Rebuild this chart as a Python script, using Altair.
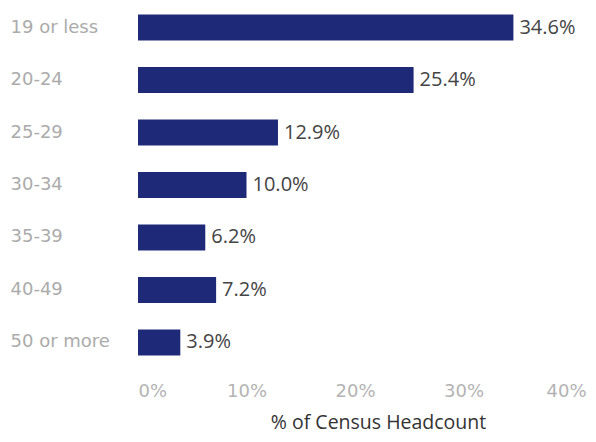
import altair as alt
import pandas as pd

categories = ["19 or less", "20-24", "25-29", "30-34", "35-39", "40-49", "50 or more"]
values = [34.6, 25.4, 12.9, 10.0, 6.2, 7.2, 3.9]
x_ticks = [0, 10, 20, 30, 40]

df = pd.DataFrame({"age": categories, "pct": values})

LFONT = "DejaVu Sans"
VFONT = "Open Sans"
TFONT = "Open Sans"
BAR = "#1e2a78"

base = alt.Chart(df).transform_calculate(
    lbl="format(datum.pct, '.1f') + '%'"
)

y = alt.Y(
    "age:N",
    sort=categories,
    scale=alt.Scale(paddingInner=0.505, paddingOuter=0.086),
    axis=alt.Axis(
        title=None, ticks=False, domain=False, grid=False,
        labelAlign="left", labelPadding=128, labelFont=LFONT,
        labelFontSize=18, labelColor="#ababab",
    ),
)
x = alt.X(
    "pct:Q",
    scale=alt.Scale(domain=[0, 40], nice=False),
    axis=alt.Axis(
        values=x_ticks, labelExpr="datum.value + '%'",
        title="% of Census Headcount", titleFont=TFONT, titleFontSize=19.5,
        titleFontWeight="normal", titleColor="#333333",
        titleX=240, titleY=68, titleAlign="center", titleBaseline="alphabetic",
        ticks=False, domain=False, grid=False, labelFont=LFONT,
        labelFlush=False,
        labelAlign=alt.ExprRef("datum.value == 0 ? 'left' : 'center'"),
        labelOffset=alt.ExprRef("datum.value == 40 ? -6 : 0"),
        labelFontSize=18, labelColor="#b3b3b3", labelPadding=22,
    ),
)

bars = base.mark_bar(color=BAR).encode(x=x, y=y)
text = base.mark_text(
    align="left", dx=6, font=VFONT, fontSize=20, color="#444444"
).encode(x="pct:Q", y=alt.Y("age:N", sort=categories), text="lbl:N")

chart = (bars + text).properties(
    width=434, height=350, background="white",
    autosize=alt.AutoSizeParams(type="none"),
    padding={"left": 130, "top": 2, "right": 16, "bottom": 74},
).configure_view(stroke=None)

chart.save("out.html", embed_options={"renderer": "svg", "actions": False})
